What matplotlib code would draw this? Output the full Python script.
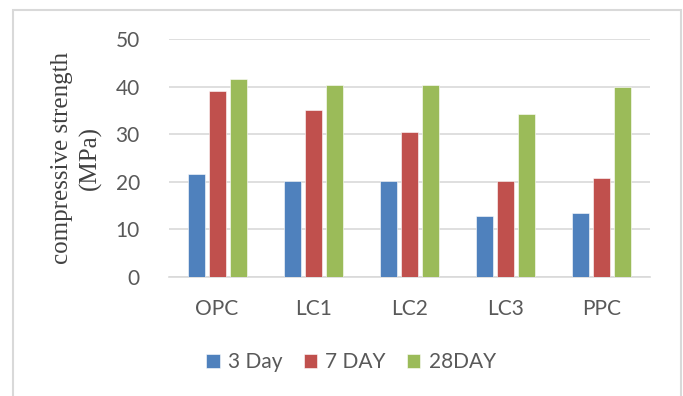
import matplotlib
matplotlib.use("Agg")
import matplotlib.pyplot as plt
from matplotlib.patches import Rectangle
import numpy as np

categories = ["OPC", "LC1", "LC2", "LC3", "PPC"]
series_names = ["3 Day", "7 DAY", "28DAY"]
day3 = [21.6, 20.2, 20.2, 12.8, 13.5]
day7 = [39.1, 35.1, 30.5, 20.2, 20.7]
day28 = [41.7, 40.4, 40.4, 34.2, 39.9]
yticks = [0, 10, 20, 30, 40, 50]

colors = ["#4F81BD", "#C0504D", "#9BBB59"]
text_gray = "#595959"
grid_gray = "#d9d9d9"

fig = plt.figure(figsize=(6.83, 3.96), dpi=100)
fig.patch.set_facecolor("white")

# outer chart frame
fig.add_artist(Rectangle((13 / 683, -0.05), (681 - 13) / 683, 1.05 - 10 / 396,
                         transform=fig.transFigure, fill=False,
                         edgecolor=grid_gray, linewidth=1.5))

ax = fig.add_axes([169 / 683, 1 - 277 / 396, (650 - 169) / 683, (277 - 39) / 396])

x = np.arange(len(categories))
width = 0.177
offset = 0.218
handles = []
for i, (vals, name) in enumerate(zip([day3, day7, day28], series_names)):
    b = ax.bar(x + (i - 1) * offset, vals, width, color=colors[i], label=name,
               edgecolor="white", linewidth=0.4, zorder=3)
    handles.append(b)

ax.set_xlim(-0.5, len(categories) - 0.5)
ax.set_ylim(0, 50)
ax.set_yticks(yticks)
ax.set_xticks(x)
ax.set_xticklabels(categories)
ax.yaxis.grid(True, color=grid_gray, linewidth=1.2, zorder=0)
ax.set_axisbelow(True)
for side in ["top", "right", "left"]:
    ax.spines[side].set_visible(False)
ax.spines["bottom"].set_color(grid_gray)
ax.spines["bottom"].set_linewidth(1.2)
ax.tick_params(axis="both", length=0, labelsize=15, labelcolor=text_gray)
ax.tick_params(axis="y", pad=21)
ax.tick_params(axis="x", pad=16)
for lab in ax.get_xticklabels() + ax.get_yticklabels():
    lab.set_fontfamily("Lato")

ax.set_ylabel("compressive strength\n(MPa)", family="Liberation Serif",
              fontsize=18, color="#404040", linespacing=1.3, labelpad=10)

fig.legend(handles=handles, labels=series_names, loc="center",
           bbox_to_anchor=(351 / 683, 1 - 362 / 396), ncol=3, frameon=False,
           prop={"family": "Lato", "size": 15}, labelcolor=text_gray,
           handlelength=0.65, handleheight=0.65, handletextpad=0.4,
           columnspacing=1.0)

fig.savefig("out.png", dpi=100, facecolor="white")
